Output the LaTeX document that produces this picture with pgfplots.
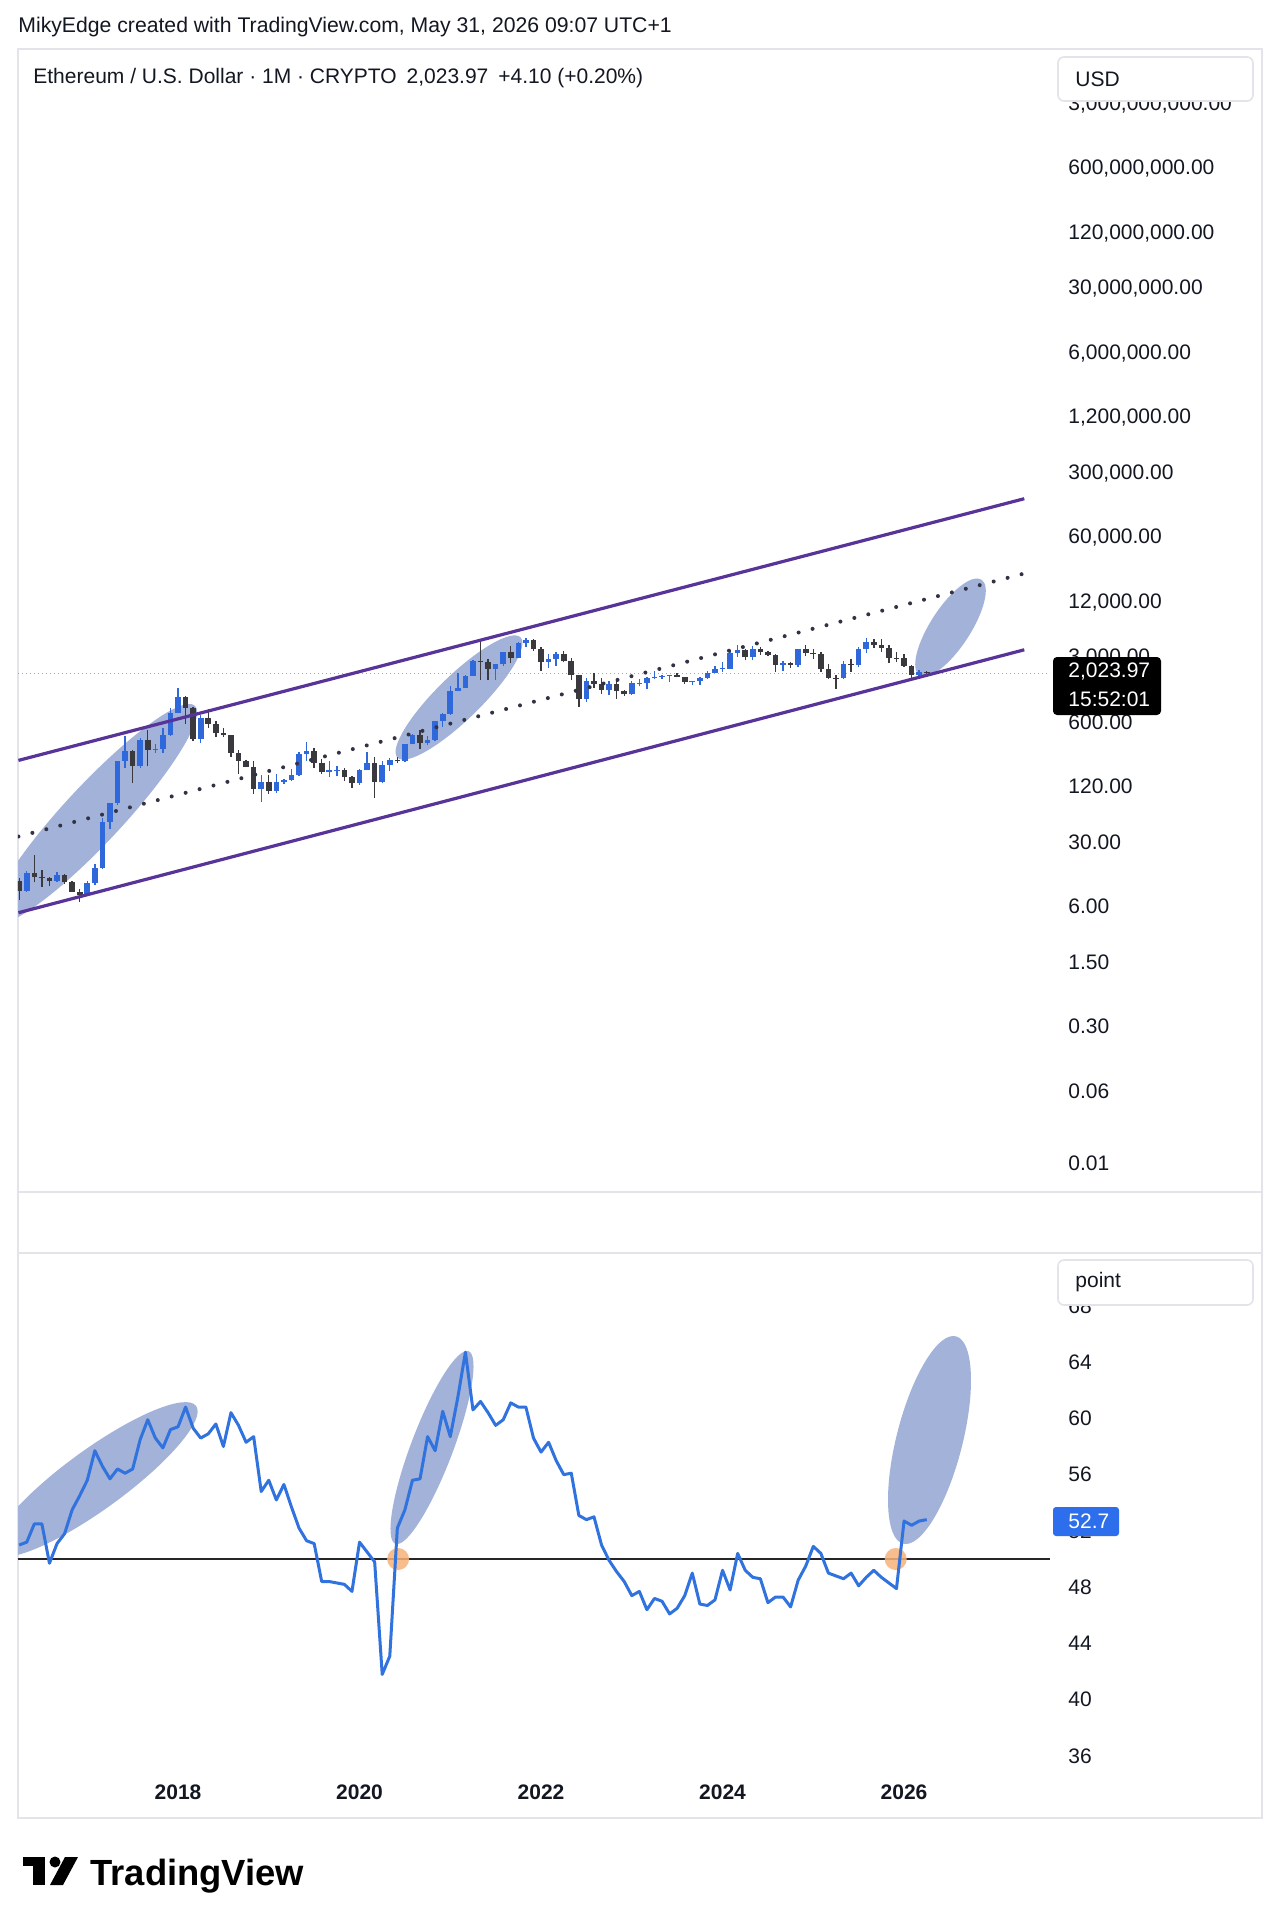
\documentclass[border=0pt]{standalone}
\usepackage{fontspec}
\setmainfont{Liberation Sans}
\usepackage{pgfplots}
\usepackage{pgfplotstable}
\pgfplotsset{compat=1.18}

\definecolor{upc}{RGB}{46,104,218}
\definecolor{dnc}{RGB}{58,58,62}
\definecolor{chan}{RGB}{88,52,152}
\definecolor{ell}{RGB}{162,178,216}
\definecolor{rsic}{RGB}{48,114,222}
\definecolor{txt}{RGB}{19,23,34}
\definecolor{frm}{RGB}{226,228,234}
\definecolor{orng}{RGB}{246,178,122}
\definecolor{lbl}{RGB}{44,110,235}
\definecolor{dotc}{RGB}{50,50,68}

\newcommand\tl{\fontsize{10.5}{12}\selectfont}

% months since Apr 2016: k, open, high, low, close (USD)
\pgfplotstableread{
k O H L C
1 8.8 14.5 8.7 14.0
5 11.5 14.2 11.1 13.2
9 8.0 11.5 8.0 10.7
10 10.7 17.2 10.4 15.6
11 15.6 55 15.5 50
12 50 80 42 80
13 80 230 75 230
14 230 420 190 290
16 200 400 190 385
18 300 350 280 305
19 305 520 280 440
20 440 860 420 755
21 755 1420 750 1120
24 395 710 360 670
32 113 160 82 133
34 107 165 102 136
35 136 145 128 141
36 141 185 139 160
37 160 285 155 268
38 268 362 230 290
41 172 225 152 180
42 180 200 155 182
45 130 185 126 180
46 180 288 180 218
48 133 227 130 206
49 206 245 175 231
51 226 348 222 345
52 345 445 345 434
54 360 420 335 386
55 386 620 370 615
56 615 755 535 737
57 737 1475 715 1315
58 1315 2040 1300 1420
59 1420 1945 1410 1920
60 1920 2800 1910 2775
63 2275 2550 1715 2535
64 2535 3470 2450 3430
66 3000 4460 2970 4290
67 4290 4870 3920 4630
70 2690 3280 2300 2920
71 2920 3480 2440 3280
75 1070 1790 1000 1680
78 1330 1660 1190 1570
81 1196 1680 1190 1585
82 1585 1740 1460 1605
83 1605 1860 1370 1820
84 1820 2140 1760 1870
85 1870 1930 1760 1875
86 1875 1960 1620 1935
89 1645 1680 1530 1670
90 1670 1865 1525 1815
91 1815 2135 1770 2050
92 2050 2440 2040 2280
93 2280 2715 2100 2290
94 2283 3520 2260 3340
95 3340 4090 3050 3640
97 3010 3980 2860 3760
101 2515 2730 2150 2600
103 2515 3740 2360 3700
109 1795 2790 1740 2530
111 2490 3940 2370 3700
112 3700 4955 3350 4390
119 1950 2200 1850 2080
121 2019.87 2100 1950 2030
}\uptab

\pgfplotstableread{
k O H L C
0 11.4 12.4 7.0 8.8
2 14.0 21.5 11.0 12.5
3 12.5 14.9 9.8 12.3
4 12.3 12.6 10.0 11.5
6 13.2 13.5 10.5 11.1
7 11.1 11.5 8.6 8.7
8 8.7 9.2 6.8 8.0
15 290 300 130 200
17 385 495 200 300
22 1120 1160 570 855
23 855 880 370 395
25 670 840 520 575
26 575 620 410 455
27 455 520 410 430
28 430 430 250 280
29 280 300 165 230
30 230 235 195 198
31 198 225 100 113
33 133 160 100 107
39 290 315 190 218
40 218 240 165 172
43 182 192 138 152
44 152 155 117 130
47 218 253 90 133
50 231 254 216 226
53 434 488 308 360
61 2775 4380 1730 2710
62 2710 2890 1700 2275
65 3430 4030 2650 3000
68 4630 4780 3520 3680
69 3680 3880 2160 2690
72 3280 3580 2700 2730
73 2730 2960 1700 1940
74 1940 1960 880 1070
76 1680 2030 1420 1550
77 1550 1790 1220 1330
79 1570 1680 1070 1295
80 1295 1350 1160 1196
87 1935 2030 1830 1855
88 1855 1870 1550 1645
96 3640 3730 2810 3010
98 3760 3890 3240 3430
99 3430 3560 3090 3240
100 3240 3300 2110 2515
102 2600 2720 2310 2515
104 3700 4110 3100 3335
105 3335 3745 2920 3300
106 3300 3440 2120 2240
107 2240 2550 1760 1820
108 1820 1960 1380 1795
110 2530 2880 2110 2490
113 4390 4770 3830 4145
114 4145 4750 3440 3850
115 3850 4100 2620 3000
116 3000 3450 2700 2970
117 2970 3300 2400 2450
118 2450 2500 1750 1950
120 2080 2150 1900 2019.87
}\dntab

% channel drawing: k, price at upper / middle / lower line
\pgfplotstableread{
k up mid lo
-0.1 230.7 34.5 5.15
132.9 158500 24500 3648
}\chantab

\pgfplotstableread{
k p
-0.16 2023.97
136.3 2023.97
}\lasttab

\pgfplotstableread{
k v
0 51.0
1 51.2
2 52.5
3 52.5
4 49.7
5 51.1
6 51.8
7 53.5
8 54.5
9 55.6
10 57.7
11 56.6
12 55.7
13 56.4
14 56.1
15 56.4
16 58.5
17 59.9
18 58.6
19 57.9
20 59.2
21 59.4
22 60.8
23 59.3
24 58.6
25 58.9
26 59.6
27 58.0
28 60.4
29 59.5
30 58.3
31 58.7
32 54.8
33 55.6
34 54.2
35 55.3
36 53.7
37 52.2
38 51.3
39 51.1
40 48.4
41 48.4
42 48.3
43 48.2
44 47.7
45 51.2
46 50.5
47 49.8
48 41.8
49 43.1
50 52.2
51 53.5
52 55.6
53 55.7
54 58.7
55 57.7
56 60.5
57 58.7
58 61.5
59 64.7
60 60.6
61 61.2
62 60.4
63 59.5
64 59.9
65 61.1
66 60.8
67 60.8
68 58.6
69 57.6
70 58.3
71 57.0
72 56.0
73 56.1
74 53.1
75 52.8
76 53.0
77 51.0
78 49.9
79 49.1
80 48.4
81 47.4
82 47.7
83 46.4
84 47.2
85 47.0
86 46.1
87 46.5
88 47.4
89 49.0
90 46.8
91 46.7
92 47.1
93 49.2
94 47.8
95 50.4
96 49.2
97 48.7
98 48.6
99 46.9
100 47.3
101 47.3
102 46.6
103 48.5
104 49.5
105 50.9
106 50.4
107 49.0
108 48.8
109 48.6
110 49.0
111 48.1
112 48.7
113 49.2
114 48.7
115 48.3
116 47.9
117 52.7
118 52.4
119 52.7
120 52.8
}\rsitab

\pgfplotsset{
  wick/.style={draw=none, mark=none, forget plot, error bars/.cd, y dir=plus, y explicit, error mark=none,
     error bar style={draw=#1, solid, line width=0.7pt}},
  body/.style={draw=none, mark=none, forget plot, error bars/.cd, y dir=plus, y explicit, error mark=none,
     error bar style={draw=#1, solid, line width=2.8pt}},
}

\begin{document}
\begin{tikzpicture}
\useasboundingbox (0,0) rectangle (640pt,-963pt);
\fill[white] (0,0) rectangle (640pt,-963pt);
% frames
\draw[frm, line width=0.8pt] (9pt,-24.5pt) rectangle (631pt,-909pt);
\draw[frm, line width=0.8pt] (9pt,-596pt) -- (631pt,-596pt);
\draw[frm, line width=0.8pt] (9pt,-626.5pt) -- (631pt,-626.5pt);
% highlight ellipses (annotations)
\begin{scope}
\clip (9pt,-24.5pt) rectangle (525pt,-596pt);
\fill[ell, rotate around={47:(47pt,-407pt)}] (47pt,-407pt) ellipse [x radius=74pt, y radius=14.5pt];
\fill[ell, rotate around={44.3:(229.5pt,-348.75pt)}] (229.5pt,-348.75pt) ellipse [x radius=43pt, y radius=11pt];
\fill[ell, rotate around={57:(475.25pt,-313.75pt)}] (475.25pt,-313.75pt) ellipse [x radius=28.5pt, y radius=10pt];
\end{scope}
\begin{scope}
\clip (9pt,-626.5pt) rectangle (525pt,-887.5pt);
\fill[ell, rotate around={36:(47.5pt,-739.75pt)}] (47.5pt,-739.75pt) ellipse [x radius=62.5pt, y radius=15pt];
\fill[ell, rotate around={69.2:(216pt,-723.75pt)}] (216pt,-723.75pt) ellipse [x radius=51.5pt, y radius=10.5pt];
\fill[ell, rotate around={75.7:(464.75pt,-720pt)}] (464.75pt,-720pt) ellipse [x radius=53.5pt, y radius=16.5pt];
\end{scope}

% ---------- price panel (y = log10 of price) ----------
\begin{axis}[
  at={(9pt,-24.5pt)}, anchor=north west,
  scale only axis, width=516pt, height=571.5pt,
  xmin=-0.16, xmax=136.3,
  ymin=-2.3161, ymax=10.0752,
  axis line style={draw=none},
  xtick=\empty,
  ytick={-2,-1.2218,-0.5229,0.1761,0.7782,1.4771,2.0792,2.7782,3.4771,4.0792,4.7782,5.4771,6.0792,6.7782,7.4771,8.0792,8.7782,9.4771},
  yticklabels={0.01,0.06,0.30,1.50,6.00,30.00,120.00,600.00,{3,000.00},{12,000.00},{60,000.00},{300,000.00},{1,200,000.00},{6,000,000.00},{30,000,000.00},{120,000,000.00},{600,000,000.00},{3,000,000,000.00}},
  yticklabel pos=right,
  major tick length=0pt, minor tick length=0pt, tick style={draw=none},
  yticklabel style={anchor=west, inner sep=0pt, xshift=9pt, font=\tl, text=txt},
]
\addplot[gray!70, line width=0.5pt, dash pattern=on 0.6pt off 1.4pt] table[x=k, y expr=ln(\thisrow{p})/2.302585093] {\lasttab};
% wicks
\addplot[wick=upc] table[x=k, y expr=ln(\thisrow{L})/2.302585093, y error expr=(ln(\thisrow{H})-ln(\thisrow{L}))/2.302585093] {\uptab};
\addplot[wick=dnc] table[x=k, y expr=ln(\thisrow{L})/2.302585093, y error expr=(ln(\thisrow{H})-ln(\thisrow{L}))/2.302585093] {\dntab};
% bodies
\addplot[body=upc] table[x=k, y expr=ln(\thisrow{O})/2.302585093, y error expr=(ln(\thisrow{C})-ln(\thisrow{O}))/2.302585093] {\uptab};
\addplot[body=dnc] table[x=k, y expr=ln(\thisrow{C})/2.302585093, y error expr=(ln(\thisrow{O})-ln(\thisrow{C}))/2.302585093] {\dntab};
% channel
\addplot[chan, line width=1.6pt] table[x=k, y expr=ln(\thisrow{up})/2.302585093] {\chantab};
\addplot[chan, line width=1.6pt] table[x=k, y expr=ln(\thisrow{lo})/2.302585093] {\chantab};
\addplot[dotc, line width=2pt, line cap=round, dash pattern=on 0pt off 7.2pt] table[x=k, y expr=ln(\thisrow{mid})/2.302585093] {\chantab};
\end{axis}

% ---------- indicator panel ----------
\begin{axis}[
  at={(9pt,-626.5pt)}, anchor=north west,
  scale only axis, width=516pt, height=261pt,
  xmin=-0.16, xmax=136.3, ymin=34.65, ymax=71.75,
  axis line style={draw=none},
  xtick={21,45,69,93,117}, xticklabels={2018,2020,2022,2024,2026},
  xticklabel style={anchor=center, yshift=-8.5pt, inner sep=0pt, font=\tl\bfseries, text=txt},
  ytick={36,40,44,48,52,56,60,64,68}, yticklabels={36,40,44,48,52,56,60,64,68},
  yticklabel pos=right,
  major tick length=0pt, minor tick length=0pt, tick style={draw=none},
  yticklabel style={anchor=west, inner sep=0pt, xshift=9pt, font=\tl, text=txt},
]
\addplot[black!85, line width=1.3pt] coordinates {(-0.16,50) (136.3,50)};
\fill[orng, opacity=0.85] (axis cs:50.1,50) circle [radius=5.5pt];
\fill[orng, opacity=0.85] (axis cs:115.9,50) circle [radius=5.5pt];
\addplot[rsic, line width=1.5pt, line join=round] table[x=k, y=v] {\rsitab};
\end{axis}

% ---------- overlays ----------
\node[anchor=west, inner sep=0pt, text=txt, font=\fontsize{10.6}{12}\selectfont] at (9pt,-13.5pt)
  {MikyEdge created with TradingView.com, May 31, 2026 09:07 UTC+1};
\node[anchor=west, inner sep=0pt, text=txt, font=\fontsize{10.5}{12}\selectfont] at (16.5pt,-39pt)
  {Ethereum / U.S. Dollar · 1M · CRYPTO\hspace{5pt}2,023.97\hspace{5pt}+4.10 (+0.20\%)};
\filldraw[fill=white, draw=frm, line width=0.8pt, rounded corners=3pt] (529pt,-28.5pt) rectangle (626.5pt,-50.5pt);
\node[anchor=west, inner sep=0pt, text=txt, font=\tl] at (537.5pt,-39.5pt) {USD};
\fill[black, rounded corners=2pt] (526.5pt,-328.5pt) rectangle (580.5pt,-357.5pt);
\node[anchor=west, inner sep=0pt, text=white, font=\tl] at (534pt,-336pt) {2,023.97};
\node[anchor=west, inner sep=0pt, text=white, font=\tl] at (534pt,-349.5pt) {15:52:01};
\filldraw[fill=white, draw=frm, line width=0.8pt, rounded corners=3pt] (529pt,-630pt) rectangle (626.5pt,-652.5pt);
\node[anchor=west, inner sep=0pt, text=txt, font=\tl] at (537.5pt,-641pt) {point};
\fill[lbl, rounded corners=1.5pt] (526.5pt,-753.5pt) rectangle (559.5pt,-768pt);
\node[anchor=west, inner sep=0pt, text=white, font=\tl] at (534pt,-760.75pt) {52.7};
% logo
\fill[black] (11.5pt,-928.5pt) rectangle (22.5pt,-933pt);
\fill[black] (16.5pt,-928.5pt) rectangle (22.5pt,-942.5pt);
\fill[black] (27.5pt,-931pt) circle [radius=2.75pt];
\fill[black] (32.5pt,-928.5pt) -- (39pt,-928.5pt) -- (31.5pt,-942.5pt) -- (25pt,-942.5pt) -- cycle;
\node[anchor=base west, inner sep=0pt, text=black, font=\fontsize{18.2}{20}\selectfont\bfseries] at (45pt,-942.5pt) {TradingView};
\end{tikzpicture}
\end{document}
